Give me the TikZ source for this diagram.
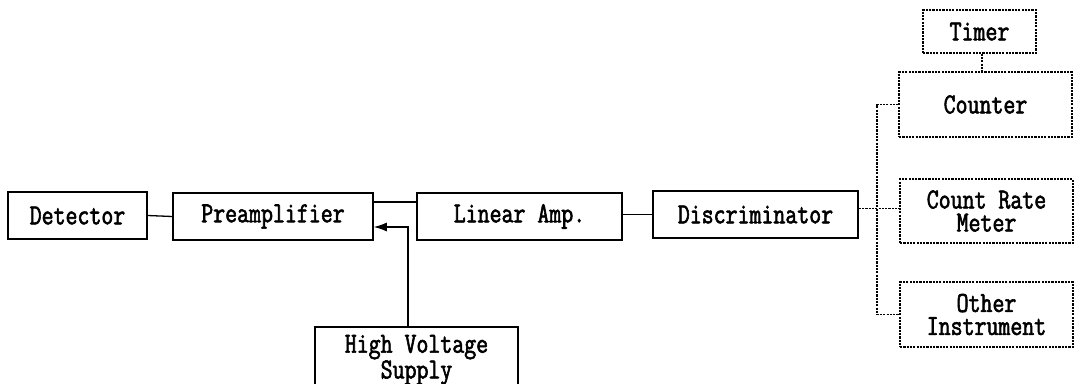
\documentclass[tikz,border=0pt]{standalone}
\usepackage{fontspec}
\newfontfamily\lblfont{Latin Modern Mono}[FakeStretch=0.8,FakeBold=2]
\usetikzlibrary{arrows.meta}
\begin{document}
\begin{tikzpicture}[x=1pt,y=-1pt,
  solidbox/.style={draw,line width=1.5pt,rectangle,inner sep=0pt,align=center,
    font=\lblfont\fontsize{29}{23}\selectfont},
  dotbox/.style={solidbox,line width=1.3pt,dash pattern=on 2.2pt off 1.1pt},
  wire/.style={line width=1.3pt},
  dotwire/.style={line width=1.2pt,dash pattern=on 2.2pt off 1.1pt}]
\useasboundingbox (0,0) rectangle (1074,383);
\clip (0,0) rectangle (1074,383);
\fill[white] (0,0) rectangle (1074,383);
\node[solidbox,minimum width=139pt,minimum height=47pt] (det) at (77.5,215.5) {Detector};
\node[solidbox,minimum width=200pt,minimum height=47pt] (pre) at (273,216.5) {Preamplifier};
\node[solidbox,minimum width=205pt,minimum height=47pt] (lin) at (519.5,216.5) {Linear Amp.};
\node[solidbox,minimum width=205pt,minimum height=47pt] (disc) at (755.5,214.5) {Discriminator};
\node[solidbox,minimum width=203pt,minimum height=66pt] (hv) at (416.5,360) {High Voltage\\Supply};
\node[dotbox,minimum width=113pt,minimum height=43pt] (tim) at (979.5,31.5) {Timer};
\node[dotbox,minimum width=173pt,minimum height=65pt] (cnt) at (985.5,104.5) {Counter};
\node[dotbox,minimum width=173pt,minimum height=64pt] (crm) at (986.5,211) {Count Rate\\Meter};
\node[dotbox,minimum width=173pt,minimum height=65pt] (oth) at (986.5,314.5) {Other\\Instrument};
\coordinate (bus) at (877,0);
\draw[wire] (det.east) -- (pre.west);
\draw[wire] ([yshift=14.5pt]pre.east) -- ([yshift=14.5pt]lin.west);
\draw[wire,-{Latex[length=13pt,width=9pt]}] ([xshift=-8.5pt]hv.north) |- ([yshift=-10.5pt]pre.east);
\draw[wire] ([yshift=2pt]lin.east) -- ([yshift=2pt]lin.east -| disc.west);
\draw[dotwire] ([yshift=6pt]disc.east) -- ([yshift=6pt]disc.east -| crm.west);
\draw[dotwire] (cnt.west) -- (cnt.west -| bus) -- (oth.west -| bus) -- (oth.west);
\draw[dotwire] ([xshift=2.5pt]tim.south) -- ([xshift=2.5pt]tim.south |- cnt.north);
\end{tikzpicture}
\end{document}
